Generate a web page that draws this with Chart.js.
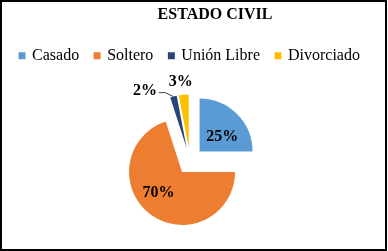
<!DOCTYPE html>
<html>
<head>
<meta charset="utf-8">
<script src="https://cdn.jsdelivr.net/npm/chart.js@4/dist/chart.umd.min.js"></script>
<style>
  html, body { margin: 0; padding: 0; background: #ffffff; }
  #wrap { width: 388px; height: 251px; position: relative; }
</style>
</head>
<body>
<div id="wrap"><canvas id="c" width="388" height="251"></canvas></div>
<script>
// ---- data ----
const chartTitle = 'ESTADO CIVIL';
const categories = ['Casado', 'Soltero', 'Unión Libre', 'Divorciado'];
const values = [25, 70, 2, 3];
const valueLabels = ['25%', '70%', '2%', '3%'];
const sliceColors = ['#5B9BD5', '#ED7D31', '#264478', '#FFC000'];

// label placement style (fraction of radius, angular shift in degrees)
const labelRadiusFrac = [0.53, 0.58, 1.36, 1.275];
const labelAngleShift = [9, 14, -21, -1.4];
const explodeDist = 13.5;
const serif = '"Liberation Serif", "Times New Roman", serif';

const explodePlugin = {
  id: 'explode',
  beforeDatasetsDraw(chart) {
    const a = chart.chartArea;
    const cx = (a.left + a.right) / 2, cy = (a.top + a.bottom) / 2;
    chart.getDatasetMeta(0).data.forEach(arc => {
      const mid = (arc.startAngle + arc.endAngle) / 2;
      arc.x = cx + Math.cos(mid) * explodeDist;
      arc.y = cy + Math.sin(mid) * explodeDist;
    });
  }
};

const labelPlugin = {
  id: 'sliceLabels',
  afterDatasetsDraw(chart) {
    const ctx = chart.ctx;
    ctx.save();
    ctx.font = 'bold 16px ' + serif;
    ctx.fillStyle = '#000000';
    ctx.textAlign = 'center';
    ctx.textBaseline = 'middle';
    chart.getDatasetMeta(0).data.forEach((arc, i) => {
      const mid = (arc.startAngle + arc.endAngle) / 2;
      const ang = mid + labelAngleShift[i] * Math.PI / 180;
      const r = arc.outerRadius * labelRadiusFrac[i];
      const lx = arc.x + Math.cos(ang) * r;
      const ly = arc.y + Math.sin(ang) * r + 1.5;
      const txt = valueLabels[i];
      if (labelRadiusFrac[i] > 1 && Math.abs(labelAngleShift[i]) > 5) {
        // leader line
        const w = ctx.measureText(txt).width;
        const ex = arc.x + Math.cos(mid) * arc.outerRadius;
        const ey = arc.y + Math.sin(mid) * arc.outerRadius;
        const sx = lx + w / 2 + 2, sy = ly + 2;
        ctx.beginPath();
        ctx.moveTo(sx, sy);
        ctx.lineTo(sx + 6.5, sy);
        ctx.lineTo(ex, ey);
        ctx.strokeStyle = '#404040';
        ctx.lineWidth = 1;
        ctx.stroke();
      }
      ctx.fillText(txt, lx, ly);
    });
    ctx.restore();
  }
};

const framePlugin = {
  id: 'frame',
  beforeDraw(chart) {
    const ctx = chart.ctx;
    ctx.save();
    ctx.fillStyle = '#ffffff';
    ctx.fillRect(0, 0, chart.width, chart.height);
    ctx.restore();
  },
  afterDraw(chart) {
    const ctx = chart.ctx;
    ctx.save();
    // chart title (offset to the right as in the original)
    ctx.font = 'bold 16px ' + serif;
    ctx.fillStyle = '#000000';
    ctx.textAlign = 'center';
    ctx.textBaseline = 'middle';
    ctx.fillText(chartTitle, 215, 15);
    // outer frame
    ctx.strokeStyle = '#000000';
    ctx.lineWidth = 2;
    ctx.strokeRect(1, 1, chart.width - 3, chart.height - 2);
    ctx.restore();
  }
};

new Chart(document.getElementById('c'), {
  type: 'pie',
  data: {
    labels: categories,
    datasets: [{
      data: values,
      backgroundColor: sliceColors,
      borderWidth: 0,
      radius: 53
    }]
  },
  options: {
    responsive: false,
    animation: false,
    events: [],
    layout: { padding: { left: 0, right: 8, top: 31.7, bottom: 2.7 } },
    plugins: {
      title: { display: false },
      legend: {
        display: true,
        position: 'top',
        align: 'center',
        labels: {
          color: '#000000',
          font: { family: serif, size: 16 },
          boxWidth: 4,
          boxHeight: 4,
          padding: 16,
          generateLabels(chart) {
            const items = Chart.overrides.pie.plugins.legend.labels.generateLabels(chart);
            items.forEach((it, i) => {
              it.fillStyle = sliceColors[i];
              it.strokeStyle = sliceColors[i];
              it.lineWidth = 3;
            });
            return items;
          }
        }
      },
      tooltip: { enabled: false }
    }
  },
  plugins: [framePlugin, explodePlugin, labelPlugin]
});
</script>
</body>
</html>
